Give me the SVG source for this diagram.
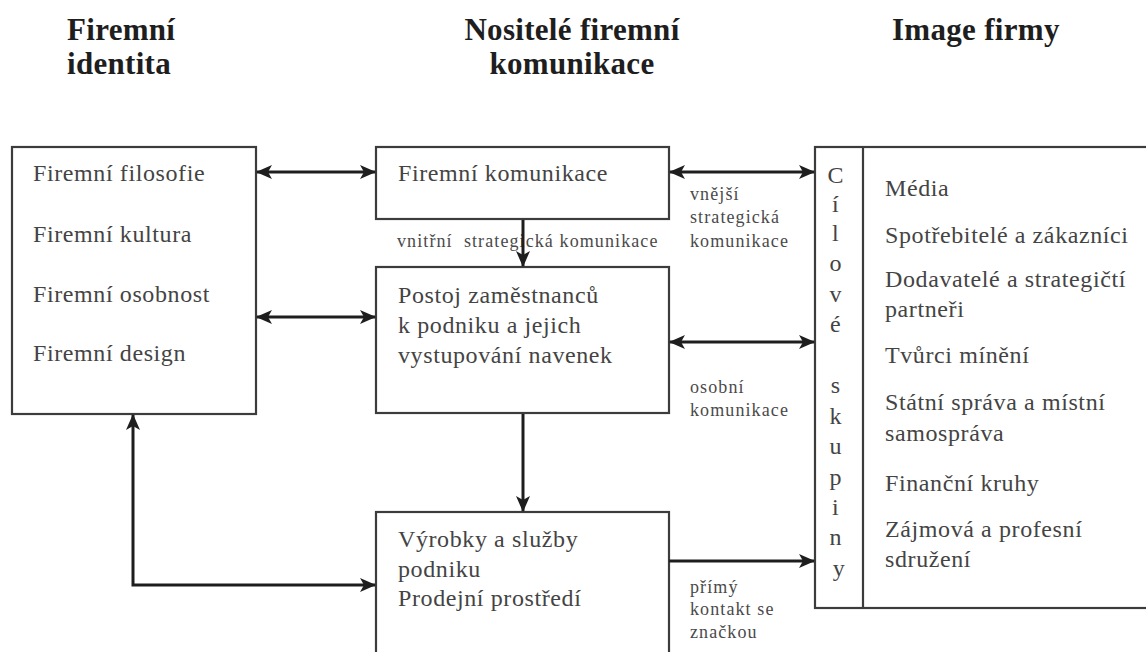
<svg xmlns="http://www.w3.org/2000/svg" width="1146" height="652" viewBox="0 0 1146 652">
  <style>
    .head { font-family: "Liberation Serif", "Times New Roman", serif; font-size: 31px; font-weight: bold; fill: #1e1e1e; letter-spacing: 0.3px; }
    .body { font-family: "Liberation Serif", "Times New Roman", serif; font-size: 24px; fill: #444; letter-spacing: 0.6px; }
    .small { font-family: "Liberation Serif", "Times New Roman", serif; font-size: 18px; fill: #4a4a4a; letter-spacing: 1.1px; }
    .box { fill: #fff; stroke: #3c3c3c; stroke-width: 2.2; }
    .conn { fill: none; stroke: #1e1e1e; stroke-width: 3; }
  </style>
  <defs>
    <marker id="head" viewBox="0 0 16 14" refX="15" refY="7" markerWidth="16" markerHeight="14" markerUnits="userSpaceOnUse" orient="auto-start-reverse">
      <path d="M0,0 L16,7 L0,14 L4,7 z" fill="#1e1e1e"/>
    </marker>
  </defs>
  <rect width="1146" height="652" fill="#fff"/>

  <!-- column headings -->
  <g id="headings">
    <text class="head" x="67" y="40">Firemní</text>
    <text class="head" x="67" y="74">identita</text>
    <text class="head" x="572" y="40" text-anchor="middle">Nositelé firemní</text>
    <text class="head" x="572" y="74" text-anchor="middle">komunikace</text>
    <text class="head" x="892" y="40">Image firmy</text>
  </g>

  <!-- corporate identity -->
  <g id="identity">
    <rect class="box" x="12" y="147" width="244" height="267"/>
    <text class="body" x="33" y="181">Firemní filosofie</text>
    <text class="body" x="33" y="242">Firemní kultura</text>
    <text class="body" x="33" y="302">Firemní osobnost</text>
    <text class="body" x="33" y="361">Firemní design</text>
  </g>

  <!-- corporate communication -->
  <g id="communication">
    <rect class="box" x="376" y="147" width="293" height="72"/>
    <text class="body" x="398" y="181">Firemní komunikace</text>
  </g>

  <!-- employees -->
  <g id="employees">
    <rect class="box" x="376" y="267" width="293" height="146"/>
    <text class="body" x="398" y="303">Postoj zaměstnanců</text>
    <text class="body" x="398" y="333">k podniku a jejich</text>
    <text class="body" x="398" y="363">vystupování navenek</text>
  </g>

  <!-- products and services -->
  <g id="products">
    <rect class="box" x="376" y="512" width="293" height="150"/>
    <text class="body" x="398" y="547">Výrobky a služby</text>
    <text class="body" x="398" y="577">podniku</text>
    <text class="body" x="398" y="606">Prodejní prostředí</text>
  </g>

  <!-- target groups -->
  <g id="target-groups">
    <rect class="box" x="815" y="147" width="340" height="461"/>
    <line x1="863" y1="147" x2="863" y2="608" stroke="#3c3c3c" stroke-width="2.2"/>
    <text class="body" x="839" text-anchor="middle" letter-spacing="0">
      <tspan x="839" y="183">C</tspan>
      <tspan x="839" y="212">í</tspan>
      <tspan x="839" y="241">l</tspan>
      <tspan x="839" y="271">o</tspan>
      <tspan x="839" y="302">v</tspan>
      <tspan x="839" y="332">é</tspan>
      <tspan x="839" y="393">s</tspan>
      <tspan x="839" y="424">k</tspan>
      <tspan x="839" y="454">u</tspan>
      <tspan x="839" y="485">p</tspan>
      <tspan x="839" y="515">i</tspan>
      <tspan x="839" y="545">n</tspan>
      <tspan x="839" y="576">y</tspan>
    </text>
    <text class="body" x="885" y="196">Média</text>
    <text class="body" x="885" y="243">Spotřebitelé a zákazníci</text>
    <text class="body" x="885" y="287">Dodavatelé a strategičtí</text>
    <text class="body" x="885" y="317">partneři</text>
    <text class="body" x="885" y="363">Tvůrci mínění</text>
    <text class="body" x="885" y="410">Státní správa a místní</text>
    <text class="body" x="885" y="441">samospráva</text>
    <text class="body" x="885" y="491">Finanční kruhy</text>
    <text class="body" x="885" y="537">Zájmová a profesní</text>
    <text class="body" x="885" y="567">sdružení</text>
  </g>

  <!-- connector labels -->
  <g id="labels">
    <text class="small" x="397" y="247" xml:space="preserve">vnitřní  strategická komunikace</text>
    <text class="small" x="690" y="200">vnější</text>
    <text class="small" x="690" y="223">strategická</text>
    <text class="small" x="690" y="247">komunikace</text>
    <text class="small" x="690" y="393">osobní</text>
    <text class="small" x="690" y="416">komunikace</text>
    <text class="small" x="690" y="593">přímý</text>
    <text class="small" x="690" y="615">kontakt se</text>
    <text class="small" x="690" y="638">značkou</text>
  </g>

  <!-- connectors -->
  <g id="connectors">
    <line class="conn" x1="257" y1="172" x2="375" y2="172" marker-start="url(#head)" marker-end="url(#head)"/>
    <line class="conn" x1="257" y1="317" x2="375" y2="317" marker-start="url(#head)" marker-end="url(#head)"/>
    <line class="conn" x1="670" y1="172" x2="814" y2="172" marker-start="url(#head)" marker-end="url(#head)"/>
    <line class="conn" x1="670" y1="342" x2="814" y2="342" marker-start="url(#head)" marker-end="url(#head)"/>
    <line class="conn" x1="523" y1="220" x2="523" y2="266" marker-end="url(#head)"/>
    <line class="conn" x1="523" y1="414" x2="523" y2="511" marker-end="url(#head)"/>
    <line class="conn" x1="669" y1="561" x2="814" y2="561" marker-end="url(#head)"/>
    <path class="conn" d="M133,415 L133,585 L375,585" marker-start="url(#head)" marker-end="url(#head)"/>
  </g>
</svg>
